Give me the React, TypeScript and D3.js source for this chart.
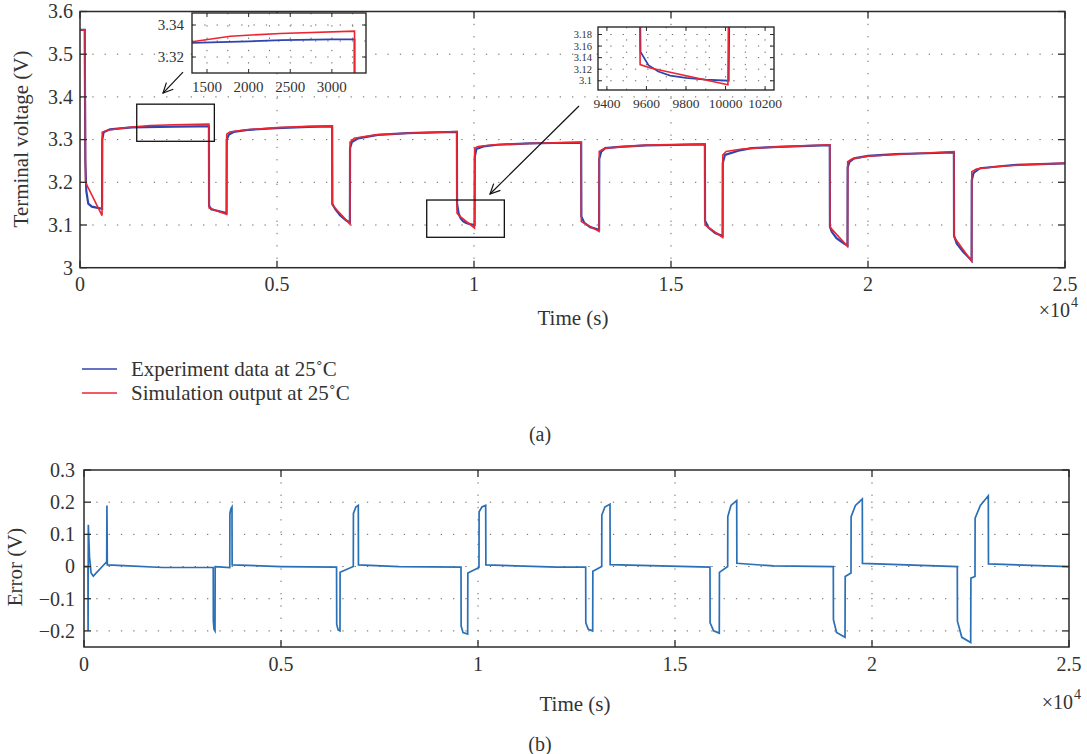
import React from "react";
import * as d3 from "d3";

// [time (s), voltage (V)]
const experimentData: [number, number][] = [
  [0, 3.557], [120, 3.557], [135, 3.25], [160, 3.18], [210, 3.15], [300, 3.143], [450, 3.14], [560, 3.138],
  [565, 3.3], [600, 3.317], [760, 3.324], [1100, 3.327], [1320, 3.3288], [2000, 3.3298], [2400, 3.3305], [3000, 3.331], [3272, 3.331],
  [3276, 3.145], [3330, 3.137], [3720, 3.128],
  [3724, 3.3], [3780, 3.312], [3900, 3.318], [4300, 3.323], [5000, 3.327], [5800, 3.33], [6400, 3.331],
  [6404, 3.15], [6480, 3.137], [6600, 3.123], [6750, 3.111], [6850, 3.106],
  [6854, 3.28], [6900, 3.294], [7060, 3.303], [7560, 3.311], [8320, 3.315], [9000, 3.317], [9566, 3.318],
  [9570, 3.15], [9610, 3.127], [9660, 3.116], [9720, 3.109], [9800, 3.105], [9900, 3.102], [10016, 3.1],
  [10020, 3.26], [10060, 3.278], [10240, 3.284], [10600, 3.288], [11400, 3.291], [12000, 3.292], [12720, 3.293],
  [12724, 3.12], [12800, 3.105], [12950, 3.095], [13175, 3.089],
  [13179, 3.255], [13230, 3.272], [13330, 3.28], [13690, 3.283], [14360, 3.2866], [15040, 3.2874], [15860, 3.289],
  [15864, 3.11], [15950, 3.094], [16120, 3.081], [16310, 3.074],
  [16314, 3.245], [16370, 3.264], [16710, 3.274], [17040, 3.28], [17720, 3.283], [19030, 3.287],
  [19034, 3.096], [19080, 3.084], [19200, 3.069], [19400, 3.056], [19480, 3.052],
  [19484, 3.235], [19530, 3.248], [19650, 3.256], [20000, 3.262], [20700, 3.266], [21500, 3.268], [22180, 3.27],
  [22184, 3.075], [22250, 3.057], [22420, 3.037], [22600, 3.02], [22630, 3.017],
  [22634, 3.205], [22680, 3.222], [22843, 3.233], [23690, 3.2405], [25000, 3.2445],
];

const simulationData: [number, number][] = [
  [0, 3.557], [127, 3.557], [140, 3.2], [560, 3.122],
  [564, 3.317], [700, 3.322], [1000, 3.326], [1320, 3.3295], [1780, 3.333], [2380, 3.3347], [3272, 3.3362],
  [3276, 3.14], [3720, 3.125],
  [3724, 3.313], [3800, 3.318], [4200, 3.323], [5000, 3.328], [5800, 3.331], [6400, 3.332],
  [6404, 3.147], [6850, 3.102],
  [6854, 3.294], [6960, 3.303], [7500, 3.311], [8300, 3.315], [9000, 3.317], [9564, 3.319],
  [9568, 3.128], [9620, 3.122], [10012, 3.093],
  [10016, 3.28], [10100, 3.284], [10500, 3.288], [11400, 3.291], [12720, 3.294],
  [12724, 3.108], [13175, 3.085],
  [13179, 3.272], [13300, 3.279], [13700, 3.283], [14400, 3.287], [15860, 3.29],
  [15864, 3.1], [16310, 3.071],
  [16314, 3.264], [16400, 3.272], [16800, 3.278], [17700, 3.283], [19030, 3.288],
  [19034, 3.095], [19480, 3.05],
  [19484, 3.248], [19600, 3.255], [20000, 3.261], [20700, 3.265], [22180, 3.272],
  [22184, 3.072], [22630, 3.015],
  [22634, 3.225], [22750, 3.231], [23300, 3.237], [24000, 3.241], [25000, 3.245],
];

// [time (s), error (V)]
const errorData: [number, number][] = [
  [0, 0], [100, 0], [104, -0.2], [110, 0.13], [140, 0.03], [180, -0.02], [236, -0.03], [576, 0.015],
  [582, 0.19], [592, 0.005], [1000, 0.003], [2000, -0.003], [3280, -0.003],
  [3283, -0.17], [3300, -0.195], [3325, -0.2], [3330, 0], [3700, -0.003],
  [3703, 0.165], [3730, 0.18], [3756, 0.185], [3760, 0.005], [5000, 0], [6410, -0.002],
  [6414, -0.18], [6450, -0.197], [6497, -0.2], [6500, -0.018], [6835, 0],
  [6838, 0.165], [6900, 0.185], [6962, 0.19], [6966, 0.005], [8000, 0], [9569, -0.002],
  [9572, -0.185], [9620, -0.205], [9738, -0.21], [9742, -0.02], [10025, -0.003],
  [10028, 0.17], [10100, 0.185], [10195, 0.19], [10200, 0.005], [12000, -0.002], [12733, -0.002],
  [12736, -0.175], [12800, -0.195], [12911, -0.2], [12915, -0.015], [13140, 0],
  [13143, 0.16], [13220, 0.185], [13350, 0.194], [13355, 0.006], [15888, -0.002],
  [15891, -0.175], [15980, -0.2], [16124, -0.207], [16128, -0.018], [16337, 0],
  [16340, 0.155], [16420, 0.19], [16566, 0.205], [16570, 0.01], [17500, 0.002], [19018, 0],
  [19021, -0.165], [19100, -0.205], [19315, -0.22], [19320, -0.031], [19467, -0.02],
  [19470, 0.155], [19580, 0.19], [19754, 0.21], [19758, 0.01], [22165, 0],
  [22168, -0.17], [22280, -0.22], [22505, -0.236], [22510, -0.036], [22614, -0.031],
  [22617, 0.15], [22750, 0.19], [22952, 0.22], [22956, 0.008], [25000, 0],
];

const timeTicks = [0, 5000, 10000, 15000, 20000, 25000];
const timeTickLabels = ["0", "0.5", "1", "1.5", "2", "2.5"];
const voltTicks = [3, 3.1, 3.2, 3.3, 3.4, 3.5, 3.6];
const errTicks = [-0.2, -0.1, 0, 0.1, 0.2, 0.3];
const errTickLabels = ["\u22120.2", "\u22120.1", "0", "0.1", "0.2", "0.3"];

const legendLabels = ["Experiment data at 25\u02daC", "Simulation output at 25\u02daC"];

// zoom boxes [t0, t1, v0, v1] and arrows [t0, v0, t1, v1] in panel (a) data units
const zoomBoxes = [
  [1440, 3410, 3.296, 3.383],
  [8800, 10770, 3.0712, 3.1585],
];
const arrows = [
  [2614, 3.458, 2107, 3.409],
  [12665, 3.3787, 10406, 3.1726],
];

const inset1 = {
  xDomain: [1320, 3410], yDomain: [3.31, 3.3475],
  xTicks: [1500, 2000, 2500, 3000], yTicks: [3.32, 3.34],
  xMinor: [1750, 2250, 2750, 3250], yMinor: [3.33],
};
const inset2 = {
  xDomain: [9355, 10245], yDomain: [3.084, 3.193],
  xTicks: [9400, 9600, 9800, 10000, 10200], yTicks: [3.1, 3.12, 3.14, 3.16, 3.18],
  xMinor: [9500, 9700, 9900, 10100], yMinor: [] as number[],
};

const FONT = "'Liberation Serif', 'Times New Roman', serif";
const BLUE = "#2f44ad";
const RED = "#ec2530";
const ERR = "#2a70b6";
const AXIS = "#2b2b2b";
const TXT = "#333";
const GRID = "#666";
const DOT = "1.3 11";

const top = { l: 80, r: 1065, t: 11.5, b: 267.7 };
const bot = { l: 84, r: 1069, t: 470, b: 647 };

function Inset({ cfg, box, fs, yfs, xBase, yGap, clipId }: any) {
  const x = d3.scaleLinear().domain(cfg.xDomain).range([box.x, box.x + box.w]);
  const y = d3.scaleLinear().domain(cfg.yDomain).range([box.y + box.h, box.y]);
  const line = d3.line<[number, number]>().x(d => x(d[0])).y(d => y(d[1]));
  return (
    <g>
      <defs>
        <clipPath id={clipId}>
          <rect x={box.x} y={box.y} width={box.w} height={box.h} />
        </clipPath>
      </defs>
      <rect x={box.x} y={box.y} width={box.w} height={box.h} fill="#fff" />
      {[...cfg.xTicks, ...cfg.xMinor].map((t: number) => (
        <line key={"gx" + t} x1={x(t)} x2={x(t)} y1={box.y} y2={box.y + box.h} stroke={GRID} strokeDasharray={DOT} />
      ))}
      {[...cfg.yTicks, ...cfg.yMinor].map((v: number) => (
        <line key={"gy" + v} x1={box.x} x2={box.x + box.w} y1={y(v)} y2={y(v)} stroke={GRID} strokeDasharray={DOT} />
      ))}
      <g clipPath={`url(#${clipId})`}>
        <path d={line(experimentData) || ""} fill="none" stroke={BLUE} strokeWidth={1.8} />
        <path d={line(simulationData) || ""} fill="none" stroke={RED} strokeWidth={1.6} />
      </g>
      <rect x={box.x} y={box.y} width={box.w} height={box.h} fill="none" stroke={AXIS} strokeWidth={1.4} />
      {cfg.xTicks.map((t: number) => (
        <g key={"tx" + t}>
          <line x1={x(t)} x2={x(t)} y1={box.y + box.h} y2={box.y + box.h - 4} stroke={AXIS} />
          <line x1={x(t)} x2={x(t)} y1={box.y} y2={box.y + 4} stroke={AXIS} />
          <text x={x(t)} y={xBase} textAnchor="middle" fontSize={fs} fill={TXT} fontFamily={FONT}>{t}</text>
        </g>
      ))}
      {cfg.yTicks.map((v: number) => (
        <g key={"ty" + v}>
          <line x1={box.x} x2={box.x + 4} y1={y(v)} y2={y(v)} stroke={AXIS} />
          <line x1={box.x + box.w} x2={box.x + box.w - 4} y1={y(v)} y2={y(v)} stroke={AXIS} />
          <text x={box.x - yGap} y={y(v)} dy="0.33em" textAnchor="end" fontSize={yfs} fill={TXT} fontFamily={FONT}>{`${+v.toFixed(2)}`}</text>
        </g>
      ))}
    </g>
  );
}

function Arrow({ x1, y1, x2, y2 }: any) {
  const a = Math.atan2(y1 - y2, x1 - x2);
  const len = 11;
  const s = 0.45;
  return (
    <g stroke="#111" strokeWidth={1.2} fill="none">
      <line x1={x1} y1={y1} x2={x2} y2={y2} />
      <polyline points={`${x2 + len * Math.cos(a + s)},${y2 + len * Math.sin(a + s)} ${x2},${y2} ${x2 + len * Math.cos(a - s)},${y2 + len * Math.sin(a - s)}`} />
    </g>
  );
}

export default function App() {
  const xA = d3.scaleLinear().domain([0, 25000]).range([top.l, top.r]);
  const yA = d3.scaleLinear().domain([3, 3.6]).range([top.b, top.t]);
  const xB = d3.scaleLinear().domain([0, 25000]).range([bot.l, bot.r]);
  const yB = d3.scaleLinear().domain([-0.25, 0.3]).range([bot.b, bot.t]);

  const lineA = d3.line<[number, number]>().x(d => xA(d[0])).y(d => yA(d[1]));
  const lineB = d3.line<[number, number]>().x(d => xB(d[0])).y(d => yB(d[1]));

  const tickLen = 7;

  return (
    <svg width={1087} height={754} style={{ position: "absolute", left: 0, top: 0, background: "#fff" }} fontFamily={FONT}>
      <defs>
        <clipPath id="clipA">
          <rect x={top.l} y={top.t} width={top.r - top.l} height={top.b - top.t} />
        </clipPath>
        <clipPath id="clipB">
          <rect x={bot.l} y={bot.t} width={bot.r - bot.l} height={bot.b - bot.t} />
        </clipPath>
      </defs>

      {/* panel (a) */}
      {voltTicks.slice(1, -1).map(v => (
        <line key={"ga" + v} x1={top.l} x2={top.r} y1={yA(v)} y2={yA(v)} stroke={GRID} strokeDasharray={DOT} />
      ))}
      {timeTicks.slice(1, -1).map(t => (
        <line key={"gat" + t} x1={xA(t)} x2={xA(t)} y1={top.t} y2={top.b} stroke={GRID} strokeDasharray={DOT} />
      ))}
      <g clipPath="url(#clipA)">
        <path d={lineA(experimentData) || ""} fill="none" stroke={BLUE} strokeWidth={2.2} />
        <path d={lineA(simulationData) || ""} fill="none" stroke={RED} strokeWidth={1.6} />
      </g>
      {zoomBoxes.map((b, i) => (
        <rect key={"zb" + i} x={xA(b[0])} y={yA(b[3])} width={xA(b[1]) - xA(b[0])} height={yA(b[2]) - yA(b[3])}
          fill="none" stroke="#111" strokeWidth={1.3} />
      ))}
      {arrows.map((a, i) => (
        <Arrow key={"ar" + i} x1={xA(a[0])} y1={yA(a[1])} x2={xA(a[2])} y2={yA(a[3])} />
      ))}
      <rect x={top.l} y={top.t} width={top.r - top.l} height={top.b - top.t} fill="none" stroke={AXIS} strokeWidth={1.5} />
      {timeTicks.map((t, i) => (
        <g key={"xa" + t}>
          <line x1={xA(t)} x2={xA(t)} y1={top.b} y2={top.b - tickLen} stroke={AXIS} strokeWidth={1.3} />
          <line x1={xA(t)} x2={xA(t)} y1={top.t} y2={top.t + tickLen} stroke={AXIS} strokeWidth={1.3} />
          <text x={xA(t)} y={291} textAnchor="middle" fontSize={20} fill={TXT}>{timeTickLabels[i]}</text>
        </g>
      ))}
      {voltTicks.map(v => (
        <g key={"ya" + v}>
          <line x1={top.l} x2={top.l + tickLen} y1={yA(v)} y2={yA(v)} stroke={AXIS} strokeWidth={1.3} />
          <line x1={top.r} x2={top.r - tickLen} y1={yA(v)} y2={yA(v)} stroke={AXIS} strokeWidth={1.3} />
          <text x={73} y={yA(v)} dy="0.34em" textAnchor="end" fontSize={20} fill={TXT}>{`${+v.toFixed(1)}`}</text>
        </g>
      ))}
      <text x={573} y={325} textAnchor="middle" fontSize={21} fill={TXT}>Time (s)</text>
      <text x={1070} y={317} textAnchor="end" fontSize={20} fill={TXT}>{"\u00d710"}</text>
      <text x={1071} y={307} fontSize={14} fill={TXT}>4</text>
      <text transform="translate(28,139) rotate(-90)" textAnchor="middle" fontSize={21} fill={TXT}>Terminal voltage (V)</text>

      <Inset cfg={inset1} box={{ x: 192, y: 13, w: 174, h: 60 }} fs={15} yfs={15} xBase={92} yGap={8} clipId="clipI1" />
      <Inset cfg={inset2} box={{ x: 598, y: 27, w: 176, h: 63 }} fs={13.5} yfs={10.5} xBase={108} yGap={6} clipId="clipI2" />

      {/* legend */}
      {[BLUE, RED].map((c, i) => (
        <g key={"lg" + i}>
          <line x1={82} x2={117} y1={369 + i * 24} y2={369 + i * 24} stroke={c} strokeWidth={1.6} />
          <text x={131} y={376 + i * 24} fontSize={21} fill={TXT}>{legendLabels[i]}</text>
        </g>
      ))}
      <text x={540} y={441} textAnchor="middle" fontSize={20} fill={TXT}>(a)</text>

      {/* panel (b) */}
      {errTicks.slice(0, -1).map(v => (
        <line key={"gb" + v} x1={bot.l} x2={bot.r} y1={yB(v)} y2={yB(v)} stroke={GRID} strokeDasharray={DOT} />
      ))}
      {timeTicks.slice(1, -1).map(t => (
        <line key={"gbt" + t} x1={xB(t)} x2={xB(t)} y1={bot.t} y2={bot.b} stroke={GRID} strokeDasharray={DOT} />
      ))}
      <g clipPath="url(#clipB)">
        <path d={lineB(errorData) || ""} fill="none" stroke={ERR} strokeWidth={1.7} />
      </g>
      <rect x={bot.l} y={bot.t} width={bot.r - bot.l} height={bot.b - bot.t} fill="none" stroke={AXIS} strokeWidth={1.5} />
      {timeTicks.map((t, i) => (
        <g key={"xb" + t}>
          <line x1={xB(t)} x2={xB(t)} y1={bot.b} y2={bot.b - tickLen} stroke={AXIS} strokeWidth={1.3} />
          <line x1={xB(t)} x2={xB(t)} y1={bot.t} y2={bot.t + tickLen} stroke={AXIS} strokeWidth={1.3} />
          <text x={xB(t)} y={671} textAnchor="middle" fontSize={20} fill={TXT}>{timeTickLabels[i]}</text>
        </g>
      ))}
      {errTicks.map((v, i) => (
        <g key={"yb" + v}>
          <line x1={bot.l} x2={bot.l + tickLen} y1={yB(v)} y2={yB(v)} stroke={AXIS} strokeWidth={1.3} />
          <line x1={bot.r} x2={bot.r - tickLen} y1={yB(v)} y2={yB(v)} stroke={AXIS} strokeWidth={1.3} />
          <text x={75} y={yB(v)} dy="0.34em" textAnchor="end" fontSize={20} fill={TXT}>{errTickLabels[i]}</text>
        </g>
      ))}
      <text x={575} y={711} textAnchor="middle" fontSize={21} fill={TXT}>Time (s)</text>
      <text x={1073} y={709} textAnchor="end" fontSize={20} fill={TXT}>{"\u00d710"}</text>
      <text x={1074} y={699} fontSize={14} fill={TXT}>4</text>
      <text transform="translate(22,567) rotate(-90)" textAnchor="middle" fontSize={21} fill={TXT}>Error (V)</text>
      <text x={540} y={751} textAnchor="middle" fontSize={20} fill={TXT}>(b)</text>
    </svg>
  );
}
